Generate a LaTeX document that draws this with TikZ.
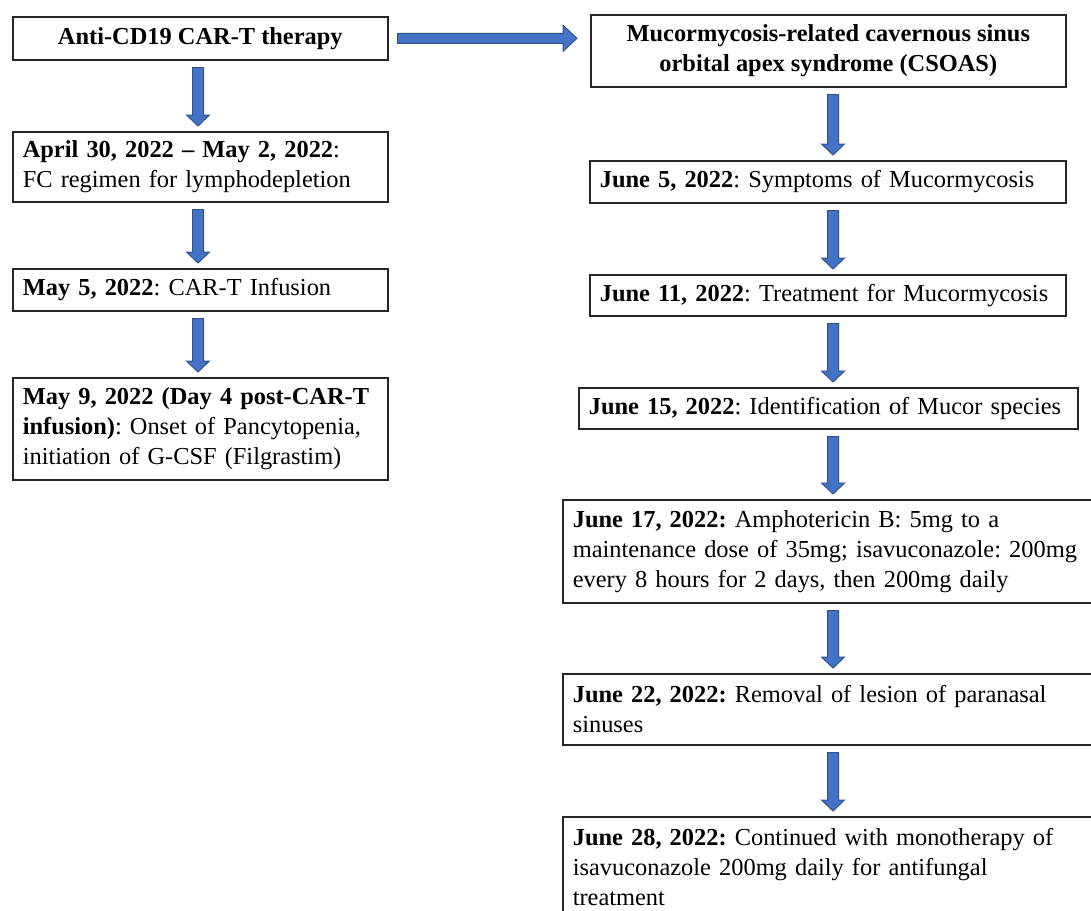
\documentclass[tikz,border=0pt]{standalone}
\usepackage{fontspec}
\setmainfont{Liberation Serif}
\usepackage{xcolor}
\usetikzlibrary{calc}
\definecolor{arrowfill}{HTML}{4472C4}
\definecolor{arrowedge}{HTML}{2F528F}

\newcommand{\flowdown}[3]{%
  \path (#1.south -| #3) ++(0,7) coordinate (stem) (#2.north -| #3) ++(0,-5) coordinate (tip);
  \draw[blockarrow] ($(stem)+(-5.5,0)$) -- ($(tip)+(-5.5,-11)$) -- ($(tip)+(-11.5,-11)$) -- (tip)
    -- ($(tip)+(11.5,-11)$) -- ($(tip)+(5.5,-11)$) -- ($(stem)+(5.5,0)$) -- cycle;}

\begin{document}
\begin{tikzpicture}[x=1pt,y=-1pt,font=\fontsize{24.4}{30}\selectfont\frenchspacing,
  box/.style={draw=black!85,line width=1.6pt,fill=white,anchor=north west,inner xsep=10pt,inner ysep=4pt},
  headbox/.style={box,align=center,font=\fontsize{24.4}{30}\selectfont\frenchspacing\bfseries},
  textbox/.style={box,align=left},
  blockarrow/.style={fill=arrowfill,draw=arrowedge,line width=1pt,line join=miter}]
\useasboundingbox (0,0) rectangle (1091,910);
\clip (0,0) rectangle (1091,910);
\fill[white] (0,0) rectangle (1091,910);
\coordinate (colL) at (198,0);
\coordinate (colR) at (833,0);

\node (cart) at (12,16) [headbox,minimum width=375pt,minimum height=43pt] {Anti-CD19 CAR-T therapy};
\node (fc) at (12,131) [textbox,minimum height=70pt,text width=355pt] {\textbf{April 30, 2022 – May 2, 2022}:\\ FC regimen for lymphodepletion};
\node (infusion) at (12,268) [textbox,minimum height=42pt,text width=355pt] {\textbf{May 5, 2022}: CAR-T Infusion};
\node (onset) at (12,377) [textbox,minimum height=102pt,text width=355pt] {\textbf{May 9, 2022 (Day 4 post-CAR-T}\\ \textbf{infusion)}: Onset of Pancytopenia,\\ initiation of G-CSF (Filgrastim)};

\node (csoas) at (590,14) [headbox,minimum width=475pt,minimum height=72pt] {Mucormycosis-related cavernous sinus\\ orbital apex syndrome (CSOAS)};
\node (jun5) at (589,160) [textbox,minimum height=42pt,text width=456pt] {\textbf{June 5, 2022}: Symptoms of Mucormycosis};
\node (jun11) at (589,274) [textbox,minimum height=41pt,text width=456pt] {\textbf{June 11, 2022}: Treatment for Mucormycosis};
\node (jun15) at (578,387) [textbox,minimum height=41pt,text width=479pt] {\textbf{June 15, 2022}: Identification of Mucor species};
\node (jun17) at (562,499) [textbox,minimum height=103pt,text width=525pt] {\textbf{June 17, 2022:} Amphotericin B: 5mg to a\\ maintenance dose of 35mg; isavuconazole: 200mg\\ every 8 hours for 2 days, then 200mg daily};
\node (jun22) at (562,673) [textbox,minimum height=71pt,text width=525pt] {\textbf{June 22, 2022:} Removal of lesion of paranasal\\ sinuses};
\node (jun28) at (562,816) [textbox,minimum height=100pt,text width=525pt] {\textbf{June 28, 2022:} Continued with monotherapy of\\ isavuconazole 200mg daily for antifungal\\ treatment};

\path (cart.east) ++(9,0) coordinate (stem) (csoas.west |- cart.east) ++(-13,0) coordinate (tip);
\draw[blockarrow] ($(stem)+(0,-5)$) -- ($(tip)+(-14,-5)$) -- ($(tip)+(-14,-13)$) -- (tip)
  -- ($(tip)+(-14,13)$) -- ($(tip)+(-14,5)$) -- ($(stem)+(0,5)$) -- cycle;

\flowdown{cart}{fc}{colL}
\flowdown{fc}{infusion}{colL}
\flowdown{infusion}{onset}{colL}
\flowdown{csoas}{jun5}{colR}
\flowdown{jun5}{jun11}{colR}
\flowdown{jun11}{jun15}{colR}
\flowdown{jun15}{jun17}{colR}
\flowdown{jun17}{jun22}{colR}
\flowdown{jun22}{jun28}{colR}
\end{tikzpicture}
\end{document}
